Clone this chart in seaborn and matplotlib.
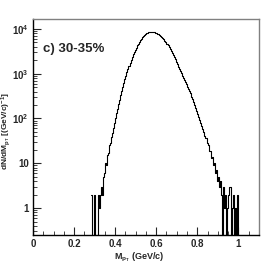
import numpy as np
import pandas as pd
import matplotlib
matplotlib.use("Agg")
import matplotlib.pyplot as plt
import seaborn as sns
from matplotlib.ticker import FixedLocator, MultipleLocator, LogLocator, NullFormatter

# histogram of M_pT, bins of 0.005 GeV/c starting at 0.28
bin_lo = 0.28
bin_w = 0.005
counts = [
    2, 0, 0, 2, 0, 0, 0, 2, 1, 2, 3, 2, 5, 6, 10, 9, 15, 17, 25, 29,
    39, 47, 61, 79, 101, 133, 166, 214, 265, 336, 409, 510, 615, 754, 900,
    1085, 1275, 1515, 1755, 2045, 2345, 2695, 3045, 3445, 3845, 4285, 4715,
    5175, 5615, 6065, 6485, 6915, 7285, 7645, 7955, 8225, 8425, 8595, 8665,
    8710, 8670, 8590, 8470, 8300, 8090, 7850, 7570, 7270, 6950, 6600, 6240,
    5860, 5480, 5100, 4720, 4340, 3980, 3620, 3280, 2960, 2650, 2370, 2100,
    1850, 1630, 1450, 1290, 1150, 1020, 912, 813, 724, 646, 575, 513, 457,
    407, 363, 309, 269, 229, 200, 170, 148, 126, 110, 93, 81, 69, 59, 51,
    40, 36, 28, 26, 19, 19, 13, 14, 9, 10, 6, 7, 4, 5, 3, 4, 2, 0, 3, 1,
    2, 0, 1, 2, 3, 3, 0, 1, 2, 0, 1, 0, 2, 0,
]
y_ticks = [1, 10, 100, 1000, 10000]
y_ticklabels = ["1", "10", r"$\mathbf{10^{2}}$", r"$\mathbf{10^{3}}$", r"$\mathbf{10^{4}}$"]
x_ticks = [0, 0.2, 0.4, 0.6, 0.8, 1.0]
x_ticklabels = ["0", "0.2", "0.4", "0.6", "0.8", "1"]

n_bins = len(counts)
df = pd.DataFrame({
    "m": bin_lo + bin_w * (np.arange(n_bins) + 0.5),
    "n": counts,
})

sns.set_style("ticks")
plt.rcParams["font.family"] = ["Liberation Sans", "DejaVu Sans"]
plt.rcParams["mathtext.fontset"] = "custom"
plt.rcParams["mathtext.rm"] = "Liberation Sans"
plt.rcParams["mathtext.bf"] = "Liberation Sans:bold"
plt.rcParams["mathtext.it"] = "Liberation Sans:italic"

fig = plt.figure(figsize=(2.76, 2.63), dpi=100)
ax = fig.add_axes([0.1196, 0.1065, 0.8184, 0.8213])

sns.histplot(data=df, x="m", weights="n", binwidth=bin_w,
             binrange=(bin_lo, bin_lo + bin_w * n_bins), element="step", fill=False,
             color="black", linewidth=0.8, ax=ax)
ax.set_yscale("log")
ax.set_xlim(0, 1.10)
ax.set_ylim(0.25, 16700)

ax.yaxis.set_major_locator(FixedLocator(y_ticks))
ax.set_yticklabels(y_ticklabels)
ax.yaxis.set_minor_locator(LogLocator(base=10, subs=np.arange(2, 10)))
ax.yaxis.set_minor_formatter(NullFormatter())
ax.xaxis.set_major_locator(FixedLocator(x_ticks))
ax.set_xticklabels(x_ticklabels)
ax.xaxis.set_minor_locator(MultipleLocator(0.05))

ax.tick_params(which="major", direction="in", length=6, width=0.8, labelsize=7, pad=3)
ax.tick_params(which="minor", direction="in", length=3, width=0.6)
for lab in ax.get_xticklabels() + ax.get_yticklabels():
    lab.set_fontweight("bold")

for side in ["left", "bottom"]:
    ax.spines[side].set_color("black")
    ax.spines[side].set_linewidth(1.0)
for side in ["top", "right"]:
    ax.spines[side].set_visible(True)
    ax.spines[side].set_color("#808080")
    ax.spines[side].set_linewidth(1.0)

ax.set_ylabel(r"$\mathbf{dN/dM_{p_{T}}}$ [(GeV/c)$^{\mathbf{-1}}$]", fontsize=6,
              fontweight="bold")
ax.yaxis.set_label_coords(-0.088, 0.48)
ax.set_xlabel(r"$\mathbf{M_{p_{T}}}$ (GeV/c)", fontsize=6.5, fontweight="bold")
ax.xaxis.set_label_coords(0.47, -0.072)

ax.text(0.045, 0.86, "c) 30-35%", transform=ax.transAxes, fontsize=9.5,
        fontweight="bold", ha="left", va="center")

fig.savefig("out.png", dpi=100, facecolor="white")
